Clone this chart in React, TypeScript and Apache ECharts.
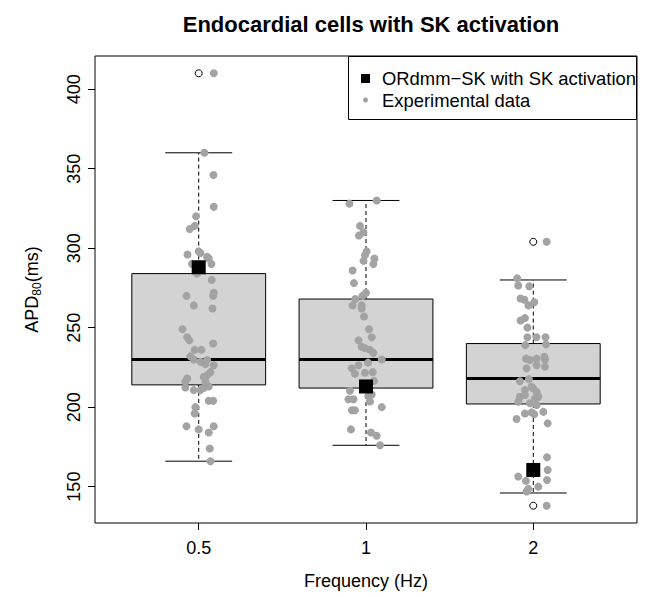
import React, { useEffect, useRef } from "react";
import * as echarts from "echarts";

const categories = ["0.5", "1", "2"];
const yTicks = [150, 200, 250, 300, 350, 400];

const boxMin = [166, 176, 146];
const boxQ1 = [214, 212, 202];
const boxMedian = [230, 230, 218];
const boxQ3 = [284, 268, 240];
const boxMax = [360, 330, 280];

const outlierGroup = [1, 3, 3];
const outlierValue = [410, 304, 138];

const modelValues = [288, 213, 160.5];

const exp05 = [410, 360, 346, 326, 320, 314, 312, 296, 298, 297, 294.5, 293.5, 290, 290, 284, 280, 270, 272, 270, 264, 262, 249, 244, 242, 240, 236, 236, 232, 230, 228.5, 229.6, 227, 226.4, 222, 220, 219, 218, 216, 216, 213, 210.7, 210.7, 212, 212.4, 204, 204, 200, 196, 188, 186, 184, 188, 174, 166];
const jit05 = [0.09, 0.034, 0.088, 0.09, -0.016, -0.024, -0.054, -0.067, 0, 0.01, 0.05, 0.06, 0.076, -0.04, -0.01, 0.078, -0.073, 0.09, 0.086, -0.029, 0.082, -0.097, -0.069, -0.056, 0.086, -0.024, 0.016, -0.05, -0.03, 0.01, 0.05, 0.04, 0.09, 0.07, 0.05, 0.03, -0.069, -0.08, 0.04, 0.06, -0.03, 0.01, 0.03, -0.08, 0.06, 0.086, -0.02, -0.024, -0.073, 0, 0.06, 0.09, 0.066, 0.07];

const exp1 = [330, 328, 314, 310, 308, 298, 295.6, 293.5, 292, 290, 286, 278, 272, 270, 268, 264, 264, 262, 257, 249, 244, 242, 238, 237, 236, 234, 230, 228, 226.4, 224.4, 221, 221.6, 222, 216.5, 210.3, 205, 205, 207, 208, 203.5, 198, 198, 200, 186, 184, 182, 176];
const jit1 = [0.064, -0.099, -0.036, -0.016, -0.042, 0.004, -0.006, 0.05, -0.015, 0.044, -0.08, -0.072, 0, -0.021, -0.064, -0.08, -0.026, -0.026, -0.012, 0.018, 0.034, -0.045, -0.026, -0.006, 0.024, 0.044, 0.094, 0.012, -0.045, -0.085, -0.066, -0.006, 0.04, 0.048, -0.096, -0.105, -0.075, 0.014, 0.034, 0.024, -0.084, -0.066, 0.094, -0.09, 0.03, 0.064, 0.084];

const exp2 = [304, 281, 276.5, 276, 268.3, 267.5, 264, 266, 254.5, 256, 250, 244, 244, 244, 239, 239.5, 230.5, 230.5, 230, 231.7, 229.6, 226.4, 225.5, 224.4, 217.6, 216.3, 212.8, 211.8, 210.7, 209.7, 206.5, 207.6, 206.5, 205.5, 203.4, 202.4, 201.3, 196, 196.7, 195.5, 197, 192.5, 189.8, 168.5, 160.5, 154.2, 156.3, 153.6, 150, 148.6, 146.9, 138];
const jit2 = [0.08, -0.096, -0.09, -0.024, -0.076, -0.053, -0.029, 0.006, -0.076, -0.05, -0.035, -0.035, 0.019, 0.073, -0.048, 0.076, -0.044, 0.02, 0.07, 0.066, -0.02, 0.02, 0.07, -0.04, -0.026, -0.08, -0.01, 0, -0.05, 0.02, -0.08, -0.05, 0.03, 0.01, -0.09, -0.02, 0.02, -0.05, -0.01, 0.006, 0.06, -0.1, 0.086, 0.082, 0.086, 0.082, -0.09, -0.044, 0.03, -0.03, -0.04, 0.08];

const FONT = "'Liberation Sans', Arial, Helvetica, sans-serif";

export default function App() {
  const ref = useRef<HTMLDivElement>(null);
  useEffect(() => {
    if (!ref.current) return;
    const chart = echarts.init(ref.current, null, { renderer: "svg" });

    const groups = [exp05, exp1, exp2];
    const jits = [jit05, jit1, jit2];
    const expData: number[][] = [];
    groups.forEach((g, gi) => {
      g.forEach((v, i) => expData.push([gi + 1 + jits[gi][i], v]));
    });
    const boxData = categories.map((_, i) => [i + 1, boxMin[i], boxQ1[i], boxMedian[i], boxQ3[i], boxMax[i]]);
    const outData = outlierGroup.map((g, i) => [g, outlierValue[i]]);
    const modelData = modelValues.map((v, i) => [i + 1, v]);

    const option: any = {
      animation: false,
      title: {
        text: "Endocardial cells with SK activation",
        left: 366,
        textAlign: "center",
        top: 8,
        textStyle: { fontFamily: FONT, fontSize: 22, fontWeight: "bold", color: "#000" },
      },
      grid: {
        left: 95,
        right: 9,
        top: 56,
        bottom: 74,
        show: true,
        borderColor: "#000",
        borderWidth: 1,
        backgroundColor: "transparent",
      },
      xAxis: {
        type: "value",
        min: 0.38,
        max: 3.62,
        splitLine: { show: false },
        axisLine: { show: false },
        axisTick: { show: true, length: 7, lineStyle: { color: "#000" }, customValues: [1, 2, 3] },
        axisLabel: {
          customValues: [1, 2, 3],
          formatter: (v: number) => categories[Math.round(v) - 1] ?? "",
          fontSize: 18,
          fontFamily: FONT,
          color: "#000",
          margin: 16,
        },
        name: "Frequency (Hz)",
        nameLocation: "middle",
        nameGap: 49,
        nameTextStyle: { fontSize: 18, fontFamily: FONT, color: "#000" },
      },
      yAxis: {
        type: "value",
        min: 127.12,
        max: 420.88,
        splitLine: { show: false },
        axisLine: { show: false },
        axisTick: { show: true, length: 7, lineStyle: { color: "#000" }, customValues: yTicks },
        axisLabel: {
          customValues: yTicks,
          rotate: 90,
          fontSize: 18,
          fontFamily: FONT,
          color: "#000",
          margin: 12,
        },
        name: "APD{sub|80}(ms)",
        nameLocation: "middle",
        nameRotate: 90,
        nameGap: 52,
        nameTextStyle: {
          fontSize: 18,
          fontFamily: FONT,
          color: "#000",
          rich: {
            sub: { fontSize: 12, fontFamily: FONT, color: "#000", padding: [10, 0, 0, 0] },
          },
        },
      },
      series: [
        {
          type: "custom",
          name: "box",
          data: boxData,
          encode: { x: 0, y: [1, 2, 3, 4, 5] },
          z: 1,
          renderItem: (params: any, api: any) => {
            const x = api.value(0);
            const pMin = api.coord([x, api.value(1)]);
            const pQ1 = api.coord([x, api.value(2)]);
            const pMed = api.coord([x, api.value(3)]);
            const pQ3 = api.coord([x, api.value(4)]);
            const pMax = api.coord([x, api.value(5)]);
            const cx = pMed[0];
            const halfW = api.size([0.8, 0])[0] / 2;
            const capHalf = halfW / 2;
            const stroke = { stroke: "#000", lineWidth: 1 };
            return {
              type: "group",
              children: [
                { type: "line", shape: { x1: cx, y1: pQ3[1], x2: cx, y2: pMax[1] }, style: { ...stroke, lineDash: [4, 3] } },
                { type: "line", shape: { x1: cx, y1: pQ1[1], x2: cx, y2: pMin[1] }, style: { ...stroke, lineDash: [4, 3] } },
                { type: "line", shape: { x1: cx - capHalf, y1: pMax[1], x2: cx + capHalf, y2: pMax[1] }, style: stroke },
                { type: "line", shape: { x1: cx - capHalf, y1: pMin[1], x2: cx + capHalf, y2: pMin[1] }, style: stroke },
                {
                  type: "rect",
                  shape: { x: cx - halfW, y: pQ3[1], width: 2 * halfW, height: pQ1[1] - pQ3[1] },
                  style: { fill: "#d3d3d3", stroke: "#000", lineWidth: 1 },
                },
                { type: "line", shape: { x1: cx - halfW, y1: pMed[1], x2: cx + halfW, y2: pMed[1] }, style: { stroke: "#000", lineWidth: 3 } },
              ],
            };
          },
        },
        {
          type: "scatter",
          name: "Outliers",
          data: outData,
          symbol: "circle",
          symbolSize: 7,
          itemStyle: { color: "#fff", borderColor: "#000", borderWidth: 1, opacity: 1 },
          z: 2,
        },
        {
          type: "scatter",
          name: "Experimental data",
          data: expData,
          symbol: "circle",
          symbolSize: 8,
          itemStyle: { color: "#a3a3a3", opacity: 1 },
          z: 3,
        },
        {
          type: "scatter",
          name: "ORdmm−SK with SK activation",
          data: modelData,
          symbol: "rect",
          symbolSize: 14,
          itemStyle: { color: "#000", opacity: 1 },
          z: 4,
        },
      ],
      graphic: [
        {
          type: "rect",
          z: 100,
          shape: { x: 348.5, y: 56.5, width: 288, height: 63 },
          style: { fill: "#fff", stroke: "#000", lineWidth: 1 },
        },
        { type: "rect", z: 101, shape: { x: 361, y: 74, width: 9, height: 9 }, style: { fill: "#000" } },
        {
          type: "text",
          z: 101,
          x: 382,
          y: 78.5,
          style: { text: "ORdmm−SK with SK activation", fontSize: 18.4, fontFamily: FONT, fill: "#000", verticalAlign: "middle", align: "left" },
        },
        { type: "circle", z: 101, shape: { cx: 365.5, cy: 100, r: 2.5 }, style: { fill: "#a3a3a3" } },
        {
          type: "text",
          z: 101,
          x: 382,
          y: 100.5,
          style: { text: "Experimental data", fontSize: 18.4, fontFamily: FONT, fill: "#000", verticalAlign: "middle", align: "left" },
        },
      ],
    };
    chart.setOption(option);
    return () => chart.dispose();
  }, []);
  return <div ref={ref} style={{ position: "fixed", left: 0, top: 0, width: 646, height: 597, background: "#fff" }} />;
}
